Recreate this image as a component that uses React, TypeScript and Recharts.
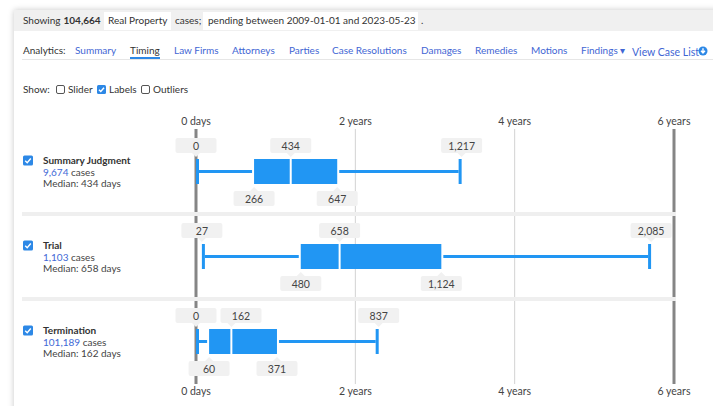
import { ComposedChart, Bar, XAxis, YAxis, CartesianGrid } from "recharts"

const categories = ["Summary Judgment", "Trial", "Termination"]
const caseCounts = ["9,674", "1,103", "101,189"]
const minDays = [0, 27, 0]
const q1Days = [266, 480, 60]
const medianDays = [434, 658, 162]
const q3Days = [647, 1124, 371]
const maxDays = [1217, 2085, 837]

const tickDays = [0, 730, 1460, 2190]
const tickLabels = ["0 days", "2 years", "4 years", "6 years"]

const tabs = ["Summary", "Timing", "Law Firms", "Attorneys", "Parties", "Case Resolutions", "Damages", "Remedies", "Motions"]
const tabLefts = [75, 130, 174, 232, 289, 332, 421, 475, 531]

const BLUE = "#2196f3"
const FONT = "Lato, 'Open Sans', sans-serif"
const PLOT_H = 255

const rows = categories.map((name, i) => ({
  name,
  base: minDays[i],
  lowWhisker: q1Days[i] - minDays[i],
  lowBox: medianDays[i] - q1Days[i],
  highBox: q3Days[i] - medianDays[i],
  highWhisker: maxDays[i] - q3Days[i],
  idx: i,
}))

const fmt = (n: number) => n.toLocaleString("en-US")

function Tag({ cx, cy, text, up, px }: { cx: number; cy: number; text: string; up: boolean; px?: number }) {
  const w = 41
  const h = 15
  const left = cx - w / 2
  const top = cy - h / 2
  const p = px ?? cx
  const tri = up
    ? `${p - 4},${top} ${p + 4},${top} ${p},${top - 4}`
    : `${p - 4},${top + h} ${p + 4},${top + h} ${p},${top + h + 4}`
  return (
    <g>
      <rect x={left} y={top} width={w} height={h} rx={2} fill="#f1f1f1" />
      <polygon points={tri} fill="#f1f1f1" />
      <text x={cx} y={cy + 4} textAnchor="middle" fontSize={10.5} fill="#444" fontFamily={FONT}>
        {text}
      </text>
    </g>
  )
}

function LowWhisker(props: any) {
  const { x, y, width, height, payload } = props
  const i = payload.idx
  const cy = y + height / 2
  return (
    <g>
      <rect x={x} y={y} width={3} height={height} fill={BLUE} />
      <rect x={x + 3} y={cy - 1.5} width={Math.max(width - 5, 0)} height={3} fill={BLUE} />
      <Tag cx={x} cy={cy - 26} text={fmt(minDays[i])} up={false} />
      <Tag cx={x + width} cy={cy + 27} text={fmt(q1Days[i])} up={true} />
    </g>
  )
}

function LowBox(props: any) {
  const { x, y, width, height, payload } = props
  const i = payload.idx
  const cy = y + height / 2
  const k = width / payload.lowBox
  const minX = x - payload.lowWhisker * k
  const medX = x + width
  const labelX = medX - minX < 45 ? minX + 45 : medX
  return (
    <g>
      <rect x={x} y={y} width={width - 1} height={height} fill={BLUE} />
      <Tag cx={labelX} cy={cy - 26} text={fmt(medianDays[i])} up={false} px={medX} />
    </g>
  )
}

function HighBox(props: any) {
  const { x, y, width, height, payload } = props
  const i = payload.idx
  const cy = y + height / 2
  return (
    <g>
      <rect x={x + 1} y={y} width={width - 1} height={height} fill={BLUE} />
      <Tag cx={x + width} cy={cy + 27} text={fmt(q3Days[i])} up={true} />
    </g>
  )
}

function HighWhisker(props: any) {
  const { x, y, width, height, payload } = props
  const i = payload.idx
  const cy = y + height / 2
  return (
    <g>
      <rect x={x + 2} y={cy - 1.5} width={Math.max(width - 5, 0)} height={3} fill={BLUE} />
      <rect x={x + width - 3} y={y} width={3} height={height} fill={BLUE} />
      <Tag cx={x + width} cy={cy - 26} text={fmt(maxDays[i])} up={false} />
    </g>
  )
}

function CheckBox({ x, y, size = 10, checked }: { x: number; y: number; size?: number; checked: boolean }) {
  return checked ? (
    <g>
      <rect x={x} y={y} width={size} height={size} rx={1.5} fill="#2d88e6" />
      <polyline
        points={`${x + size * 0.22},${y + size * 0.52} ${x + size * 0.42},${y + size * 0.72} ${x + size * 0.78},${y + size * 0.3}`}
        fill="none"
        stroke="#fff"
        strokeWidth={1.4}
      />
    </g>
  ) : (
    <rect x={x + 0.5} y={y + 0.5} width={size - 1} height={size - 1} rx={1.5} fill="#fff" stroke="#555" />
  )
}

function RowTick(props: any) {
  const { y, payload } = props
  const i = categories.indexOf(payload.value)
  return (
    <g fontFamily={FONT} fontSize={10}>
      {i < categories.length - 1 && <rect x={22} y={y + 40.5} width={654} height={4} fill="#efefef" />}
      <CheckBox x={23} y={y - 16} checked={true} />
      <text x={43} y={y - 7.5} fontWeight="bold" fill="#333">
        {payload.value}
      </text>
      <text x={43} y={y + 4.5} fill="#444">
        <tspan fill="#4169d6">{caseCounts[i]}</tspan> cases
      </text>
      <text x={43} y={y + 15.5} fill="#444">
        Median: {fmt(medianDays[i])} days
      </text>
    </g>
  )
}

// bottom axis tick also writes the matching label above the plot
function TimeTick(props: any) {
  const { x, y, payload } = props
  const label = tickLabels[tickDays.indexOf(payload.value)]
  return (
    <g fontSize={10.5} fill="#444" fontFamily={FONT}>
      <text x={x} y={y + 7} textAnchor="middle">
        {label}
      </text>
      <text x={x} y={y - PLOT_H - 8} textAnchor="middle">
        {label}
      </text>
    </g>
  )
}

function HtmlBox({ checked }: { checked: boolean }) {
  return (
    <svg width={10} height={10} style={{ display: "block" }}>
      <CheckBox x={0} y={0} size={9} checked={checked} />
    </svg>
  )
}

const abs = (left: number, top: number, extra: any = {}) => ({ position: "absolute" as const, left, top, whiteSpace: "nowrap" as const, ...extra })

export default function App() {
  return (
    <div style={{ position: "absolute", left: 0, top: 0, width: 713, height: 406, overflow: "hidden", background: "#fff", fontFamily: FONT, color: "#333" }}>
      <div style={{ position: "absolute", left: 14, top: 10, width: 720, height: 420, background: "#fff", boxShadow: "0 0 6px rgba(0,0,0,0.22)" }} />
      <div style={{ position: "absolute", left: 14, top: 10, width: 720, height: 21, background: "#f0f0f0" }} />
      <div style={{ fontSize: 10, lineHeight: "14px" }}>
        <span style={abs(23, 13)}>Showing</span>
        <span style={abs(63.5, 13, { fontWeight: "bold" })}>104,664</span>
        <span style={abs(104, 12, { display: "block", background: "#fff", width: 67, height: 18 })} />
        <span style={abs(108, 13)}>Real Property</span>
        <span style={abs(175, 13)}>cases;</span>
        <span style={abs(203, 12, { display: "block", background: "#fff", width: 215, height: 18 })} />
        <span style={abs(208, 13)}>pending between 2009-01-01 and 2023-05-23</span>
        <span style={abs(421, 13)}>.</span>
      </div>

      <div style={{ fontSize: 10, lineHeight: "14px" }}>
        <span style={abs(23, 43)}>Analytics:</span>
        {tabs.map((t, i) => (
          <span key={t} style={abs(tabLefts[i], 43, { color: t === "Timing" ? "#333" : "#3f66d4" })}>
            {t}
          </span>
        ))}
        <span style={abs(581, 43, { color: "#3f66d4" })}>Findings ▾</span>
        <span style={abs(632, 45, { color: "#3f66d4", fontSize: 10.5 })}>View Case List</span>
        <svg style={abs(698, 46)} width={10} height={10}>
          <circle cx={5} cy={5} r={4.5} fill="#2d88e6" />
          <path d="M5 2.3 V6.5 M3 4.8 L5 6.9 L7 4.8" stroke="#fff" strokeWidth={1.4} fill="none" />
        </svg>
        <div style={abs(130, 57, { width: 30, height: 2, background: "#2d88e6" })} />
        <div style={abs(22, 59, { width: 700, height: 1, background: "#e6e6e6" })} />
      </div>

      <div style={{ fontSize: 10, lineHeight: "14px" }}>
        <span style={abs(23, 82)}>Show:</span>
        <div style={abs(55.5, 84.5)}><HtmlBox checked={false} /></div>
        <span style={abs(68, 82)}>Slider</span>
        <div style={abs(97, 84.5)}><HtmlBox checked={true} /></div>
        <span style={abs(109, 82)}>Labels</span>
        <div style={abs(140.5, 84.5)}><HtmlBox checked={false} /></div>
        <span style={abs(153, 82)}>Outliers</span>
      </div>

      <div style={{ position: "absolute", left: 0, top: 100 }}>
        <ComposedChart width={713} height={306} data={rows} layout="vertical" margin={{ top: 29, right: 39, bottom: 2, left: 0 }}>
          <CartesianGrid horizontal={false} stroke="#d2d2d2" strokeWidth={1} />
          <CartesianGrid
            horizontal={false}
            stroke="#858585"
            strokeWidth={3}
            verticalCoordinatesGenerator={({ offset }: any) => [offset.left, offset.left + offset.width]}
          />
          <XAxis type="number" domain={[0, 2190]} ticks={tickDays} interval={0} height={20} axisLine={false} tickLine={false} tickSize={0} tickMargin={4} tick={<TimeTick />} />
          <YAxis type="category" dataKey="name" width={196} axisLine={false} tickLine={false} interval={0} tick={<RowTick />} />
          <Bar dataKey="base" stackId="box" barSize={25} isAnimationActive={false} shape={() => <g />} />
          <Bar dataKey="lowWhisker" stackId="box" barSize={25} isAnimationActive={false} shape={<LowWhisker />} />
          <Bar dataKey="lowBox" stackId="box" barSize={25} isAnimationActive={false} shape={<LowBox />} />
          <Bar dataKey="highBox" stackId="box" barSize={25} isAnimationActive={false} shape={<HighBox />} />
          <Bar dataKey="highWhisker" stackId="box" barSize={25} isAnimationActive={false} shape={<HighWhisker />} />
        </ComposedChart>
      </div>
    </div>
  )
}
